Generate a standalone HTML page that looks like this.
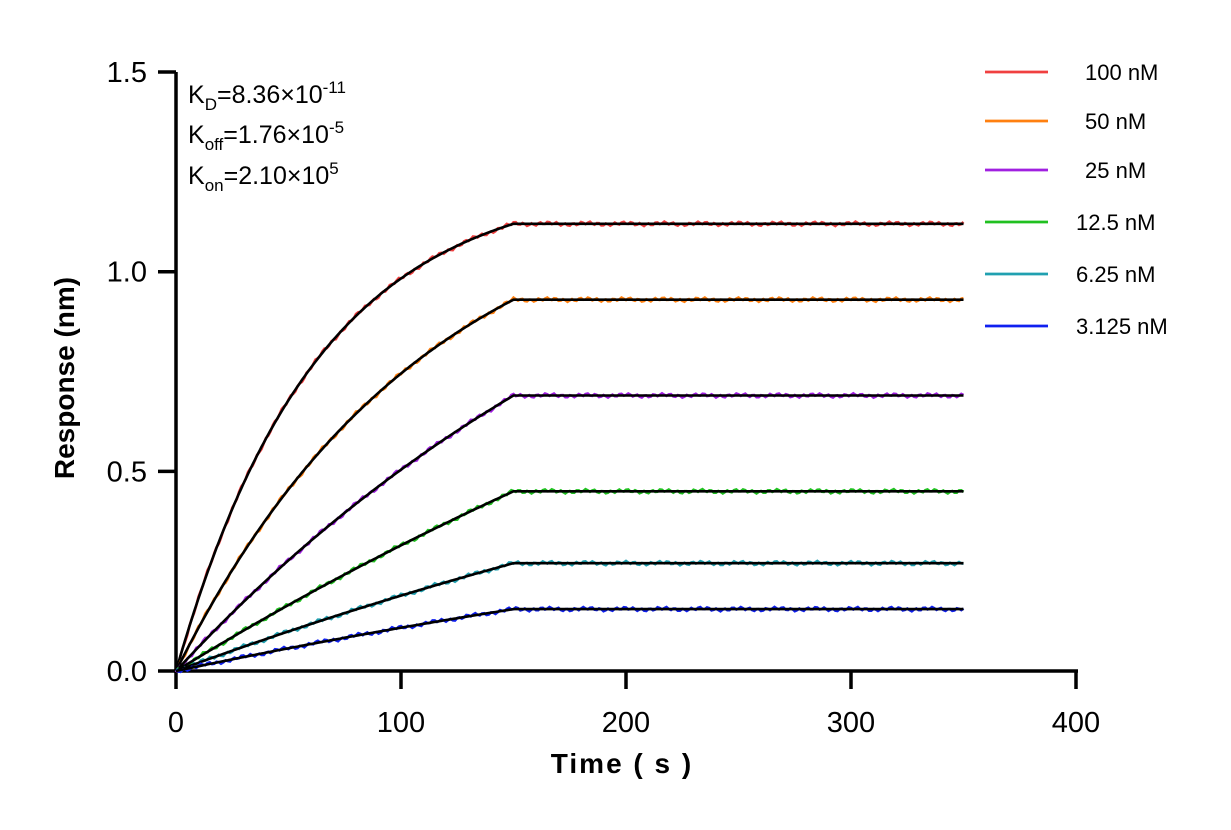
<!DOCTYPE html>
<html><head><meta charset="utf-8"><style>
body{margin:0;background:#fff;}
svg text{font-family:"Liberation Sans",Arial,sans-serif;}
</style></head><body>
<svg id="chart" width="1231" height="825" xmlns="http://www.w3.org/2000/svg">
<g id="axes"></g>
<g id="series"></g>
<g id="legend"></g>
<text x="188" y="103" font-size="25">K<tspan font-size="17" dy="7">D</tspan><tspan dy="-7">=8.36×10</tspan><tspan font-size="17" dy="-10">-11</tspan></text>
<text x="188" y="143" font-size="25">K<tspan font-size="17" dy="7">off</tspan><tspan dy="-7">=1.76×10</tspan><tspan font-size="17" dy="-10">-5</tspan></text>
<text x="188" y="184" font-size="25">K<tspan font-size="17" dy="7">on</tspan><tspan dy="-7">=2.10×10</tspan><tspan font-size="17" dy="-10">5</tspan></text>
<text x="0" y="0" transform="translate(74,378) rotate(-90)" text-anchor="middle" font-size="28" font-weight="bold">Response (nm)</text>
<text x="622" y="773" text-anchor="middle" font-size="28" font-weight="bold" letter-spacing="2">Time ( s )</text>
</svg>
<script>
const labels=["100 nM","50 nM","25 nM","12.5 nM","6.25 nM","3.125 nM"];
const colors=["#f04040","#ff8010","#a020e0","#20c020","#20a0b0","#1020f0"];
const plateau=[1.12,0.93,0.69,0.45,0.27,0.155];
const kobs=[0.016,0.009,0.004,0.002,0.002,0.002];
const xTicks=[0,100,200,300,400];
const yTicks=[0,0.5,1.0,1.5];
const yTickLabels=["0.0","0.5","1.0","1.5"];
const tAssocEnd=150, tEnd=350;
const NS="http://www.w3.org/2000/svg";
const X=t=>176+t*2.25, Y=v=>671-v*399.3;
function mk(tag,attrs,parent){const e=document.createElementNS(NS,tag);for(const k in attrs)e.setAttribute(k,attrs[k]);parent.appendChild(e);return e;}
const ax=document.getElementById('axes');
let l=mk('line',{x1:176,y1:Y(1.5),x2:176,y2:673,stroke:'#000','stroke-width':3.5},ax);


l=mk('line',{x1:174,y1:671,x2:1078,y2:671,stroke:'#000','stroke-width':3.5},ax);


xTicks.forEach(t=>{mk('line',{x1:X(t),y1:671,x2:X(t),y2:689,stroke:'#000','stroke-width':3.5},ax);
 const tx=mk('text',{x:X(t),y:732,'text-anchor':'middle','font-size':29},ax);tx.textContent=t;
 
 });
yTicks.forEach((v,i)=>{mk('line',{x1:158,y1:Y(v),x2:176,y2:Y(v),stroke:'#000','stroke-width':3.5},ax);
 const tx=mk('text',{x:147,y:Y(v)+10,'text-anchor':'end','font-size':29},ax);tx.textContent=yTickLabels[i];
 
 });
const sg=document.getElementById('series');
function curve(i,off){const k=kobs[i],req=plateau[i]/(1-Math.exp(-k*tAssocEnd));let d='';
 for(let t=0;t<=tEnd;t+=1){const v=t<=tAssocEnd?req*(1-Math.exp(-k*t)):plateau[i];d+=(t?'L':'M')+X(t).toFixed(1)+','+(Y(v)+off(t)).toFixed(1);}return d;}
plateau.forEach((p,i)=>{
 const c=mk('path',{d:curve(i,t=>Math.sin(t*1.7+i)*1.3+Math.sin(t*0.37)*0.9),fill:'none',stroke:colors[i],'stroke-width':2.6},sg);
 
 
 const f=mk('path',{d:curve(i,t=>0),fill:'none',stroke:'#000','stroke-width':2.6},sg);
 
 
});
const lg=document.getElementById('legend');
const ly=[72,121,170,222,274,326];
labels.forEach((lab,i)=>{const g=mk('g',{},lg);
 
 
 mk('line',{x1:985,y1:ly[i],x2:1048,y2:ly[i],stroke:colors[i],'stroke-width':2.8},g);
 const tx=mk('text',{x:1085,y:ly[i]+8,'font-size':22},g);tx.textContent=lab;
 if(i>=3)tx.setAttribute('x',1076);});
</script>
</body></html>
